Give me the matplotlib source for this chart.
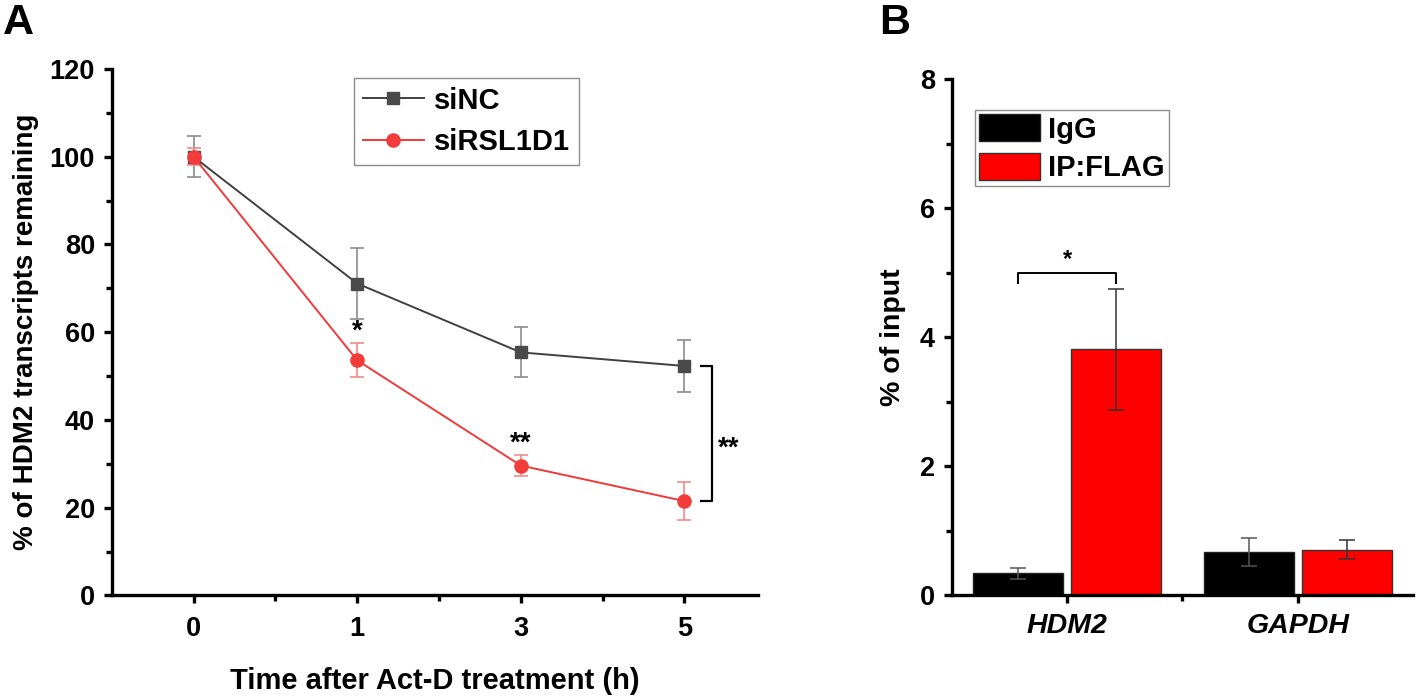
import matplotlib
matplotlib.use("Agg")
import matplotlib.pyplot as plt
import numpy as np
from matplotlib.patches import Patch

plt.rcParams['font.family'] = ['Liberation Sans', 'DejaVu Sans']
plt.rcParams['font.weight'] = 'bold'

# ---- Panel A data ----
time_labels = ['0', '1', '3', '5']
siNC_mean = [100.0, 71.1, 55.4, 52.3]
siNC_err = [4.7, 8.0, 5.7, 5.9]
siRSL_mean = [100.0, 53.6, 29.6, 21.5]
siRSL_err = [1.9, 3.9, 2.45, 4.3]
pointstars = ['', '*', '**', '']

# ---- Panel B data ----
genes = ['HDM2', 'GAPDH']
igg_mean = [0.34, 0.67]
igg_err = [0.08, 0.22]
flag_mean = [3.81, 0.71]
flag_err = [0.94, 0.15]

fig = plt.figure(figsize=(14.18, 6.96), dpi=100)

TICK = 19.5

# ---------------- Panel A ----------------
axA = fig.add_axes([0.0788, 0.1445, 0.4558, 0.7564])
x = np.arange(len(time_labels))
gray_line = '#404040'
red_line = '#f03a3a'
axA.errorbar(x, siNC_mean, yerr=siNC_err, fmt='none', ecolor='#8c8c8c',
             elinewidth=1.2, capsize=5, capthick=1.2, zorder=2)
axA.errorbar(x, siRSL_mean, yerr=siRSL_err, fmt='none', ecolor='#f28a8a',
             elinewidth=1.2, capsize=5, capthick=1.2, zorder=2)
axA.plot(x, siNC_mean, '-s', color=gray_line, lw=1.4, markersize=8,
         markerfacecolor='#4a4a4a', markeredgecolor='#4a4a4a', label='siNC', zorder=3)
axA.plot(x, siRSL_mean, '-o', color=red_line, lw=1.4, markersize=9.5,
         markerfacecolor='#f23c3c', markeredgecolor='#f23c3c', label='siRSL1D1', zorder=4)

for xi, s, m, e in zip(x, pointstars, siRSL_mean, siRSL_err):
    if s:
        axA.text(xi, m + e - 0.3, s, ha='center', va='bottom', fontsize=20, fontweight='bold')

# bracket at last point
bx0, bx1 = 3.10, 3.17
axA.plot([bx0, bx1, bx1, bx0], [siNC_mean[3], siNC_mean[3], siRSL_mean[3], siRSL_mean[3]],
         color='black', lw=1.6, clip_on=False)
axA.text(3.27, (siNC_mean[3] + siRSL_mean[3]) / 2 - 3.5, '**', ha='center', va='center',
         fontsize=20, fontweight='bold')

axA.set_xlim(-0.5, 3.45)
axA.set_ylim(0, 120)
axA.set_xticks(x)
axA.set_xticklabels(time_labels)
axA.set_xticks([0.5, 1.5, 2.5], minor=True)
axA.set_yticks(np.arange(0, 121, 20))
axA.set_yticks(np.arange(10, 120, 20), minor=True)
for sp in ['top', 'right']:
    axA.spines[sp].set_visible(False)
for sp in ['left', 'bottom']:
    axA.spines[sp].set_linewidth(2.4)
axA.tick_params(axis='both', which='major', direction='out', length=6, width=2.4,
                labelsize=TICK, pad=6)
axA.tick_params(axis='x', which='major', pad=9)
axA.tick_params(axis='both', which='minor', direction='out', length=4, width=2.4)
for lab in axA.get_xticklabels() + axA.get_yticklabels():
    lab.set_fontweight('bold')
axA.set_xlabel('Time after Act-D treatment (h)', fontsize=21, fontweight='bold', labelpad=18)
axA.set_ylabel('% of HDM2 transcripts remaining', fontsize=20, fontweight='bold', labelpad=8)
legA = axA.legend(loc='upper left', bbox_to_anchor=(0.375, 0.983), fontsize=21,
                  frameon=True, fancybox=False, edgecolor='#707070', handlelength=2.1,
                  borderpad=0.3, labelspacing=0.45, handletextpad=0.35, borderaxespad=0)
legA.get_frame().set_linewidth(1.0)
for t in legA.get_texts():
    t.set_fontweight('bold')

fig.text(0.002, 0.995, 'A', fontsize=31, fontweight='bold', ha='left', va='top')

# ---------------- Panel B ----------------
axB = fig.add_axes([0.6712, 0.1445, 0.3253, 0.7420])
xb = np.arange(len(genes))
off = 0.2125
w = 0.39
axB.bar(xb - off, igg_mean, width=w, color='black', edgecolor='#222222', lw=1.0,
        label='IgG', zorder=2)
axB.bar(xb + off, flag_mean, width=w, color='#ff0000', edgecolor='#333333', lw=1.0,
        label='IP:FLAG', zorder=2)
axB.errorbar(xb - off, igg_mean, yerr=igg_err, fmt='none', ecolor='#555555',
             elinewidth=1.1, capsize=6, capthick=1.1, zorder=3)
axB.errorbar(xb + off, flag_mean, yerr=flag_err, fmt='none', ecolor='#333333',
             elinewidth=1.1, capsize=6, capthick=1.1, zorder=3)

# significance bracket
by = 5.0
axB.plot([-off, -off, off, off], [by - 0.16, by, by, by - 0.16], color='black', lw=1.4)
axB.text(0, by + 0.02, '*', ha='center', va='bottom', fontsize=17, fontweight='bold')

axB.set_xlim(-0.5, 1.5)
axB.set_ylim(0, 8)
axB.set_xticks(xb)
axB.set_xticklabels(genes)
axB.set_xticks([0.5], minor=True)
axB.set_yticks(np.arange(0, 9, 2))
axB.set_yticks(np.arange(1, 8, 2), minor=True)
for sp in ['top', 'right']:
    axB.spines[sp].set_visible(False)
for sp in ['left', 'bottom']:
    axB.spines[sp].set_linewidth(2.4)
axB.tick_params(axis='both', which='major', direction='out', length=6, width=2.4,
                labelsize=TICK, pad=6)
axB.tick_params(axis='x', which='major', labelsize=20.5, pad=7)
axB.tick_params(axis='both', which='minor', direction='out', length=4, width=2.4)
for lab in axB.get_yticklabels():
    lab.set_fontweight('bold')
for lab in axB.get_xticklabels():
    lab.set_fontweight('bold')
    lab.set_fontstyle('italic')
axB.set_ylabel('% of input', fontsize=20.5, fontweight='bold', labelpad=10)
handles = [Patch(facecolor='black', edgecolor='#222222'),
           Patch(facecolor='#ff0000', edgecolor='#333333')]
legB = axB.legend(handles, ['IgG', 'IP:FLAG'], loc='upper left',
                  bbox_to_anchor=(0.05, 0.94), fontsize=21, frameon=True, fancybox=False,
                  edgecolor='#707070', handlelength=2.07, handleheight=1.05,
                  borderpad=0.15, labelspacing=0.3, handletextpad=0.3, borderaxespad=0)
legB.get_frame().set_linewidth(1.0)
for t in legB.get_texts():
    t.set_fontweight('bold')

fig.text(0.62, 0.995, 'B', fontsize=31, fontweight='bold', ha='left', va='top')

fig.savefig('out.png', dpi=100)
